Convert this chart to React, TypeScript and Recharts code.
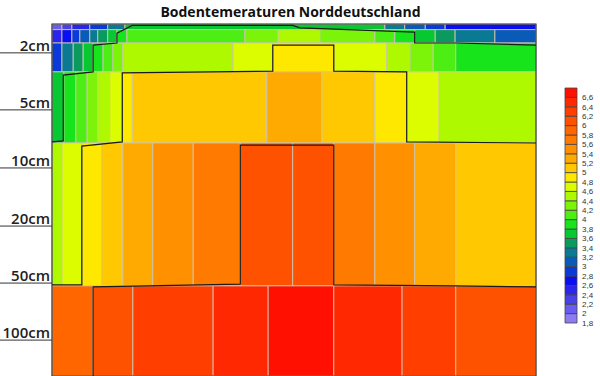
import React from 'react';
import { ComposedChart, XAxis, YAxis, ReferenceArea, Scatter } from 'recharts';

// ---- Legend scale (°C), colours from the lowest class upward ----
const legendSteps = [1.8, 2.0, 2.2, 2.4, 2.6, 2.8, 3.0, 3.2, 3.4, 3.6, 3.8, 4.0, 4.2, 4.4, 4.6, 4.8, 5.0, 5.2, 5.4, 5.6, 5.8, 6.0, 6.2, 6.4, 6.6];
const legendColors = ['#8c7cf4', '#6a5cf0', '#4a40e8', '#2a24ec', '#0a0ef0', '#0a3ad8', '#0a5ab8', '#0a7a94', '#0a9a60', '#08c832', '#18e41c', '#4cee14', '#7cf40a', '#aef800', '#dcfc00', '#ffe800', '#ffc800', '#ffaa00', '#ff9000', '#ff7a00', '#ff6600', '#ff5200', '#ff3e00', '#ff2800', '#ff1000'];

// ---- Depth axis labels (position in depth-grid units 0..100) ----
const depthLabels = ['2cm', '5cm', '10cm', '20cm', '50cm', '100cm'];
const depthLabelPos = [8.2, 24.4, 40.9, 57.4, 73.6, 89.8];

// ---- Depth bands (top/bottom in depth-grid units) ----
const bandTops = [0, 1.6, 5.4, 13.6, 33.8, 74.4];
const bandBottoms = [1.6, 5.4, 13.6, 33.8, 74.4, 100];

// ---- Cell edges along the year (day of year) and temperatures per band ----
const band1aEdges = [0, 7.5, 15, 28.5, 42, 55, 251, 266, 281.5, 296.5, 365];
const band1aValues = [2.0, 2.2, 2.4, 2.8, 3.2, 3.6, 3.2, 3.0, 2.8, 2.6];

const band1bEdges = [0, 7.5, 15, 21, 28.5, 34.5, 42, 49, 56.5, 145.5, 170.5, 202, 243.5, 258.5, 273.5, 289, 304, 334, 365];
const band1bValues = [2.4, 2.6, 2.8, 3.0, 3.2, 3.4, 3.6, 3.8, 4.0, 4.2, 4.4, 4.2, 4.0, 3.8, 3.6, 3.4, 3.2, 3.0];

const band2Edges = [0, 7.5, 16, 23.5, 31, 38.5, 46, 53.5, 136.5, 166.5, 212.5, 252.5, 270, 287.5, 304.5, 365];
const band2Values = [2.8, 3.2, 3.4, 3.6, 3.8, 4.0, 4.2, 4.4, 4.6, 4.8, 4.6, 4.4, 4.2, 4.0, 3.8];

const band3Edges = [0, 9, 18, 26.5, 34.5, 43.5, 53, 60.5, 162, 203.5, 243.5, 267.5, 292, 365];
const band3Values = [3.6, 3.8, 4.0, 4.2, 4.4, 4.6, 4.8, 5.0, 5.2, 5.0, 4.8, 4.6, 4.4];

const band4Edges = [0, 7.5, 22.5, 37.5, 53.5, 76, 106.5, 142, 181.5, 212.5, 243.5, 273.5, 304.5, 365];
const band4Values = [4.4, 4.6, 4.8, 5.0, 5.2, 5.4, 5.6, 6.0, 6.0, 5.6, 5.4, 5.2, 5.0];

const band5Edges = [0, 31, 61, 121.5, 163, 212.5, 264, 304.5, 365];
const band5Values = [5.8, 6.0, 6.2, 6.4, 6.6, 6.4, 6.2, 6.0];

// ---- Isolines (day, depth-grid) ----
const contour38 = [
  { x: 0, y: 33.5 }, { x: 8.5, y: 33.2 }, { x: 8.5, y: 14.5 }, { x: 31, y: 13.6 }, { x: 31, y: 6.0 },
  { x: 49, y: 5.4 }, { x: 49, y: 2.6 }, { x: 60.5, y: 0.4 }, { x: 181.5, y: 0.4 }, { x: 187, y: 1.1 },
  { x: 273.5, y: 2.3 }, { x: 273.5, y: 5.4 }, { x: 304, y: 5.4 }, { x: 365, y: 6.0 },
];
const contour48 = [
  { x: 0, y: 74.1 }, { x: 22.5, y: 74.1 }, { x: 22.5, y: 34.7 }, { x: 53, y: 33.5 }, { x: 53, y: 13.9 },
  { x: 166.5, y: 13.4 }, { x: 166.5, y: 6.0 }, { x: 212.5, y: 6.0 }, { x: 212.5, y: 13.4 },
  { x: 267.5, y: 13.6 }, { x: 267.5, y: 33.5 }, { x: 365, y: 33.8 },
];
const contour60 = [
  { x: 365, y: 74.7 }, { x: 304.5, y: 74.4 }, { x: 212.5, y: 74.1 }, { x: 212.5, y: 34.4 },
  { x: 142, y: 34.4 }, { x: 142, y: 73.9 }, { x: 31, y: 74.7 }, { x: 31, y: 100 },
];

const bands = [
  [band1aEdges, band1aValues],
  [band1bEdges, band1bValues],
  [band2Edges, band2Values],
  [band3Edges, band3Values],
  [band4Edges, band4Values],
  [band5Edges, band5Values],
];

const colorFor = (v: number) => {
  const i = Math.max(0, Math.min(legendColors.length - 1, Math.round((v - 1.8) / 0.2)));
  return legendColors[i];
};

const cells: { x1: number; x2: number; y1: number; y2: number; v: number }[] = [];
bands.forEach(([edges, values], b) => {
  (values as number[]).forEach((v, i) => {
    cells.push({ x1: (edges as number[])[i], x2: (edges as number[])[i + 1], y1: bandTops[b], y2: bandBottoms[b], v });
  });
});

const EmptyShape = () => <g />;

const DepthTick = (props: any) => {
  const { y, payload } = props;
  const idx = depthLabelPos.indexOf(payload.value);
  return (
    <g>
      <text x={50} y={y - 2} textAnchor="end" fontFamily="'Open Sans', sans-serif" fontWeight={600} fontSize={15} fill="#222">
        {depthLabels[idx]}
      </text>
      <line x1={0} x2={52} y1={y} y2={y} stroke="#333" strokeWidth={1} />
    </g>
  );
};

const fmtLegend = (v: number) => {
  const r = Math.round(v * 10) / 10;
  return Number.isInteger(r) ? String(r) : r.toFixed(1).replace('.', ',');
};

export default function App() {
  return (
    <div style={{ position: 'absolute', left: 0, top: 0, width: 600, height: 376, background: '#fff', overflow: 'hidden' }}>
      <div
        style={{
          position: 'absolute', left: 0, top: 2, width: 581, textAlign: 'center',
          fontFamily: "'Open Sans', sans-serif", fontWeight: 700, fontSize: 14, lineHeight: '20px', color: '#111',
        }}
      >
        Bodentemeraturen Norddeutschland
      </div>
      <div style={{ position: 'absolute', left: 0, top: 0 }}>
        <ComposedChart width={600} height={376} margin={{ top: 24, right: 64, bottom: 0, left: 0 }}>
          <XAxis type="number" dataKey="x" domain={[0, 365]} hide allowDataOverflow />
          <YAxis
            type="number" dataKey="y" domain={[0, 100]} reversed width={52}
            ticks={depthLabelPos} interval={0} tick={<DepthTick />} tickLine={false} axisLine={false} allowDataOverflow
          />
          {cells.map((c, i) => (
            <ReferenceArea
              key={i} x1={c.x1} x2={c.x2} y1={c.y1} y2={c.y2}
              fill={colorFor(c.v)} fillOpacity={1} stroke="rgba(205,195,175,0.9)" strokeWidth={1} ifOverflow="visible"
            />
          ))}
          <ReferenceArea x1={0} x2={365} y1={0} y2={100} fill="none" fillOpacity={0} stroke="#3c3c3c" strokeWidth={1.2} ifOverflow="visible" />
          <Scatter data={contour38} shape={EmptyShape} line={{ stroke: '#1a1a1a', strokeWidth: 1.2 }} lineType="joint" isAnimationActive={false} />
          <Scatter data={contour48} shape={EmptyShape} line={{ stroke: '#1a1a1a', strokeWidth: 1.2 }} lineType="joint" isAnimationActive={false} />
          <Scatter data={contour60} shape={EmptyShape} line={{ stroke: '#1a1a1a', strokeWidth: 1.2 }} lineType="joint" isAnimationActive={false} />
        </ComposedChart>
      </div>
      <div style={{ position: 'absolute', left: 555, top: 0 }}>
        <ComposedChart width={45} height={376} margin={{ top: 88, right: 0, bottom: 53, left: 10 }}>
          <XAxis type="number" dataKey="x" domain={[0, 1]} hide />
          <YAxis
            type="number" dataKey="y" orientation="right" domain={[1.8, 6.8]} width={23}
            ticks={legendSteps} interval={0} tickFormatter={fmtLegend} tickLine={false} axisLine={false}
            tickSize={0} tickMargin={5}
            tick={{ fontSize: 8, fill: '#333', fontFamily: "'Liberation Sans', Arial, sans-serif" }}
          />
          {legendSteps.map((v, i) => (
            <ReferenceArea
              key={v} x1={0} x2={1} y1={v} y2={v + 0.2}
              fill={legendColors[i]} fillOpacity={1} stroke="#444" strokeWidth={0.8} ifOverflow="visible"
            />
          ))}
          <Scatter data={legendSteps.map((v) => ({ x: 0.5, y: v }))} shape={EmptyShape} isAnimationActive={false} />
        </ComposedChart>
      </div>
    </div>
  );
}
